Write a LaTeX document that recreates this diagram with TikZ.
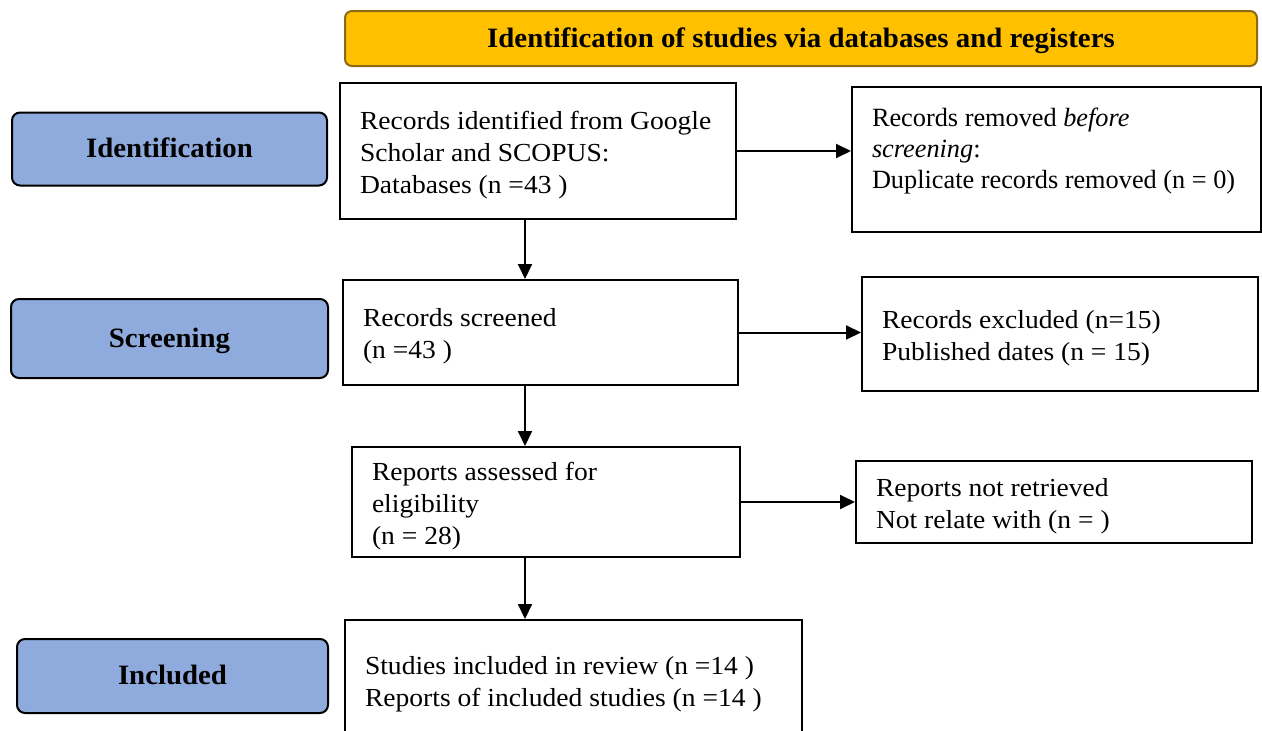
\documentclass[tikz,border=0pt]{standalone}
\usepackage{fontspec}
\setmainfont{Liberation Serif}
\newfontfamily\boxfont[FakeStretch=1.06]{Liberation Serif}
\newfontfamily\stagefont[FakeStretch=1.03]{Liberation Serif}
\usetikzlibrary{arrows.meta}

\definecolor{stageblue}{HTML}{8FAADC}
\definecolor{headgold}{HTML}{FFC000}
\definecolor{headedge}{HTML}{8C6A14}

\begin{document}
\begin{tikzpicture}[x=1pt,y=-1pt,
    stage/.style={draw=black, line width=2pt, fill=stageblue, rounded corners=8pt,
        font=\stagefont\bfseries\fontsize{28}{32}\selectfont, text depth=2pt},
    header/.style={draw=headedge, line width=2pt, fill=headgold, rounded corners=7pt,
        font=\stagefont\bfseries\fontsize{28}{32}\selectfont, text depth=2pt},
    flowbox/.style={draw=black, line width=2pt, align=flush left, inner xsep=20pt, inner ysep=0pt,
        font=\boxfont\fontsize{26}{32}\selectfont, execute at end node={\endgraf\vspace*{-8pt}}},
    flow/.style={line width=2pt, -{Triangle[length=15pt,width=14pt]}}]
    \useasboundingbox (0,0) rectangle (1262,731);

    % header and stages
    \node[header, minimum width=912pt, minimum height=55pt] (head) at (801,38.5)
        {Identification of studies via databases and registers};
    \node[stage, minimum width=315pt, minimum height=73pt] (stIdent) at (169.5,149) {Identification};
    \node[stage, minimum width=317pt, minimum height=79pt] (stScreen) at (169.5,338.5) {Screening};
    \node[stage, minimum width=311pt, minimum height=74pt] (stIncl) at (172.5,676) {Included};

    % main column
    \node[flowbox, text width=356pt, minimum height=136pt] (ident) at (538,151)
        {Records identified from Google\\Scholar and SCOPUS:\\Databases (n =43 )};
    \node[flowbox, text width=355pt, minimum height=105pt] (screened) at (540.5,332.5)
        {Records screened\\(n =43 )};
    \node[flowbox, text width=348pt, minimum height=110pt] (assessed) at (546,502)
        {Reports assessed for\\eligibility\\(n = 28)};
    \node[flowbox, text width=417pt, minimum height=120pt] (included) at (573.5,680)
        {Studies included in review (n =14 )\\Reports of included studies (n =14 )};

    % side boxes
    \node[flowbox, font=\fontsize{26.3}{31}\selectfont, text width=369pt, minimum height=145pt] (removed) at (1056.5,159.5)
        {Records removed \textit{before}\\\textit{screening}:\\Duplicate records removed (n = 0)\\\mbox{}};
    \node[flowbox, text width=356pt, minimum height=114pt] (excluded) at (1060,334)
        {Records excluded (n=15)\\Published dates (n = 15)};
    \node[flowbox, text width=356pt, minimum height=82pt] (notretr) at (1054,502)
        {Reports not retrieved\\Not relate with (n = )};

    \coordinate (spine) at (525,0);
    \draw[flow] (ident.south -| spine) -- (screened.north -| spine);
    \draw[flow] (screened.south -| spine) -- (assessed.north -| spine);
    \draw[flow] (assessed.south -| spine) -- (included.north -| spine);
    \draw[flow] (ident.east) -- (removed.west |- ident.east);
    \draw[flow] (screened.east) -- (excluded.west |- screened.east);
    \draw[flow] (assessed.east) -- (notretr.west |- assessed.east);
\end{tikzpicture}
\end{document}
